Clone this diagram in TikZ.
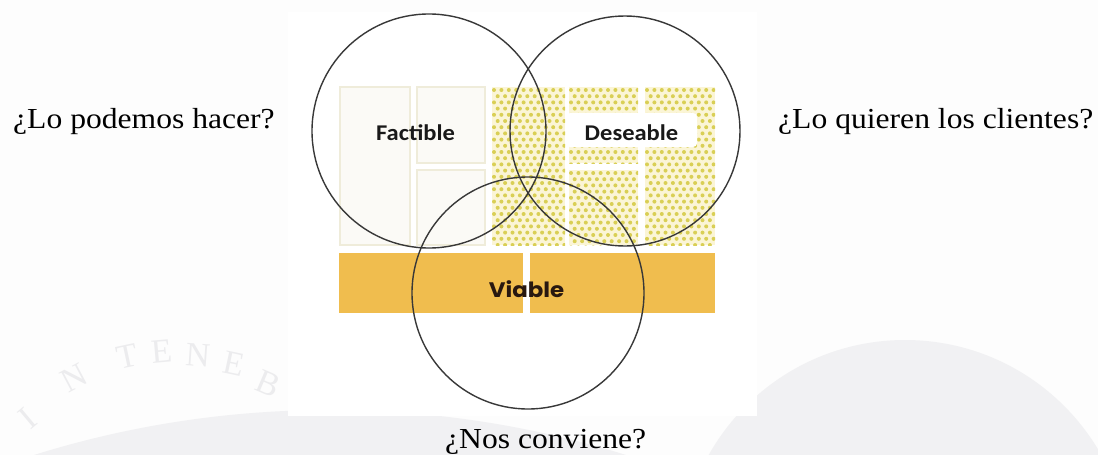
\documentclass[tikz,border=0pt]{standalone}
\usepackage{fontspec}
\usepackage{graphicx}
\setmainfont{Liberation Serif}
\newfontfamily\calfont{Carlito}
\newfontfamily\popfont{Poppins}
\definecolor{pagebg}{HTML}{FDFDFD}
\definecolor{wmark}{HTML}{F1F1F3}
\definecolor{wtext}{HTML}{ECECEE}
\definecolor{dotbg}{HTML}{FBF5D6}
\definecolor{dotc}{HTML}{D9CF55}
\definecolor{lightbg}{HTML}{FBFAF6}
\definecolor{lightln}{HTML}{EFECDA}
\definecolor{barc}{HTML}{F0BD4E}
\definecolor{circc}{HTML}{383838}
\newcommand{\sx}[1]{\scalebox{1.09}[1]{#1}}
\newcommand{\dotblock}[4]{%
  \begin{scope}
    \clip (#1,#2) rectangle (#3,#4);
    \fill[dotbg] (#1,#2) rectangle (#3,#4);
    \foreach \j in {0,...,26}{
      \pgfmathsetmacro{\yy}{#2+3+\j*6.2}
      \pgfmathsetmacro{\off}{mod(\j,2)*3.7}
      \foreach \i in {0,...,11}{
        \fill[dotc] ({#1+2+\off+\i*7.4},\yy) circle (2.0);
      }
    }
  \end{scope}}
\begin{document}
\begin{tikzpicture}[x=1pt,y=-1pt,
  qtext/.style={inner sep=0pt, anchor=base west, font=\fontsize{29}{34}\selectfont, text=black},
  boxlbl/.style={inner sep=0pt, anchor=base, font=\calfont\bfseries\fontsize{22.5}{26}\selectfont, text=black!90},
  vlbl/.style={inner sep=0pt, anchor=base, font=\popfont\bfseries\fontsize{21}{25}\selectfont, text={rgb,255:red,40;green,24;blue,16}},
  wlet/.style={inner sep=0pt, font=\fontsize{34}{38}\selectfont, text=wtext},
  lightbox/.style={fill=lightbg, draw=lightln, line width=1.5pt},
  venn/.style={draw=circc, line width=1.4pt},
  bar/.style={fill=barc}
]
\useasboundingbox (0,0) rectangle (1098,455);
\fill[pagebg] (0,0) rectangle (1098,455);
% faint watermark
\begin{scope}
  \clip (0,0) rectangle (1098,455);
  \fill[wmark] (905,565) circle (225);
  \fill[wmark] (330,1400) circle (990);
\end{scope}
\node[wlet, rotate=40] (w1) at (28,418) {I};
\node[wlet, rotate=28] (w2) at (74,378) {N};
\node[wlet, rotate=12] (w3) at (127,356) {T};
\node[wlet, rotate=5] (w4) at (162,352) {E};
\node[wlet, rotate=-4] (w5) at (198,355) {N};
\node[wlet, rotate=-12] (w6) at (234,364) {E};
\node[wlet, rotate=-23] (w7) at (268,384) {B};
% panel
\fill[white] (288,12) rectangle (757,416);
% light blocks
\draw[lightbox] (340,87) rectangle (410,245);
\draw[lightbox] (417,87) rectangle (485,163);
\draw[lightbox] (417,170) rectangle (485,245);
% dotted blocks
\dotblock{492}{87}{565}{245}
\dotblock{569}{87}{638}{163}
\dotblock{569}{170}{638}{245}
\dotblock{645}{87}{715}{245}
\fill[white, rounded corners=4pt] (566,113) rectangle (697,147);
% bars
\fill[bar] (339,253) rectangle (523,313);
\fill[bar] (530,253) rectangle (715,313);
% labels
\node[boxlbl] (fact) at (415.5,140) {\sx{Factible}};
\node[boxlbl] (des) at (631.5,140) {\sx{Deseable}};
\node[vlbl] (via) at (526.5,297) {\sx{Viable}};
% circles
\coordinate (cf) at (429,131);
\coordinate (cd) at (625,131);
\coordinate (cv) at (528,293);
\draw[venn] (cf) circle (117);
\draw[venn] (cd) circle (115);
\draw[venn] (cv) circle (116);
% questions
\node[qtext] (q1) at (13,128) {\sx{¿Lo podemos hacer?}};
\node[qtext] (q2) at (778,128) {\sx{¿Lo quieren los clientes?}};
\node[qtext] (q3) at (445,448) {\sx{¿Nos conviene?}};
\end{tikzpicture}
\end{document}
